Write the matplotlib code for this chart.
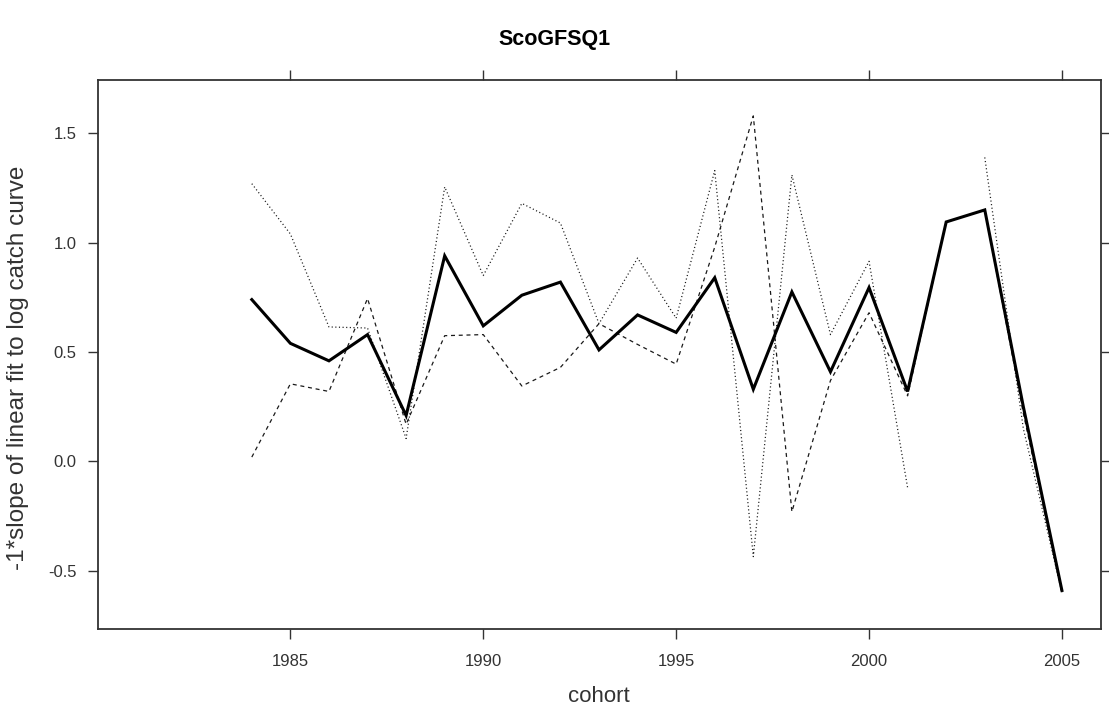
import numpy as np
import matplotlib
matplotlib.use("Agg")
import matplotlib.pyplot as plt

plt.rcParams['font.family'] = ['Liberation Sans', 'DejaVu Sans']

title = "ScoGFSQ1"
xlabel = "cohort"
ylabel = "-1*slope of linear fit to log catch curve"

cohorts = list(range(1984, 2006))
overall = [0.74, 0.54, 0.46, 0.58, 0.21, 0.94, 0.62, 0.76, 0.82, 0.51, 0.67,
           0.59, 0.84, 0.33, 0.775, 0.41, 0.795, 0.32, 1.095, 1.15, 0.25, -0.59]
series_dotted = [1.27, 1.04, 0.615, 0.61, 0.105, 1.255, 0.85, 1.18, 1.09, 0.63, 0.93,
                 0.655, 1.33, -0.435, 1.31, 0.58, 0.915, -0.12, np.nan, 1.39, 0.15, -0.60]
series_dashed = [0.02, 0.355, 0.32, 0.745, 0.17, 0.575, 0.58, 0.345, 0.43, 0.63, 0.535,
                 0.445, 0.98, 1.58, -0.23, 0.37, 0.68, 0.30, 1.095, 1.15, 0.22, -0.60]

xticks = [1985, 1990, 1995, 2000, 2005]
yticks = [-0.5, 0.0, 0.5, 1.0, 1.5]
ytick_labels = ["-0.5", "0.0", "0.5", "1.0", "1.5"]

fig = plt.figure(figsize=(11.09, 7.08), dpi=100)
ax = fig.add_axes([97.5 / 1109, 1 - 629 / 708, (1100.5 - 97.5) / 1109, (629 - 80) / 708])

ax.plot(cohorts, series_dotted, color='#1a1a1a', lw=0.9, linestyle=(0, (0.9, 2.0)))
ax.plot(cohorts, series_dashed, color='#1a1a1a', lw=0.9, linestyle=(0, (3.2, 3.0)))
ax.plot(cohorts, overall, color='black', lw=2.2, solid_joinstyle='miter')

ax.set_xlim(1980, 2006)
ax.set_ylim(-0.766, 1.744)
ax.set_xticks(xticks)
ax.set_xticklabels([str(x) for x in xticks])
ax.set_yticks(yticks)
ax.set_yticklabels(ytick_labels)

for s in ax.spines.values():
    s.set_color('#333333')
    s.set_linewidth(1.3)

ax.tick_params(axis='both', direction='out', length=7, width=1.0, color='#333333',
               labelsize=12, labelcolor='#333333',
               top=True, right=True, labeltop=False, labelright=False)
ax.tick_params(axis='x', pad=11)
ax.tick_params(axis='y', pad=8)

fig.text(0.5, 1 - 40 / 708, title, ha='center', va='center',
         fontsize=15.5, fontweight='bold', color='black')
fig.text(0.5 * (97.5 + 1100.5) / 1109, 1 - 697 / 708, xlabel, ha='center', va='center',
         fontsize=16, color='#333333')
fig.text(18 / 1109, 1 - 368 / 708, ylabel, ha='center', va='center',
         rotation=90, fontsize=17.5, color='#333333')

fig.savefig('out.png', dpi=100)
